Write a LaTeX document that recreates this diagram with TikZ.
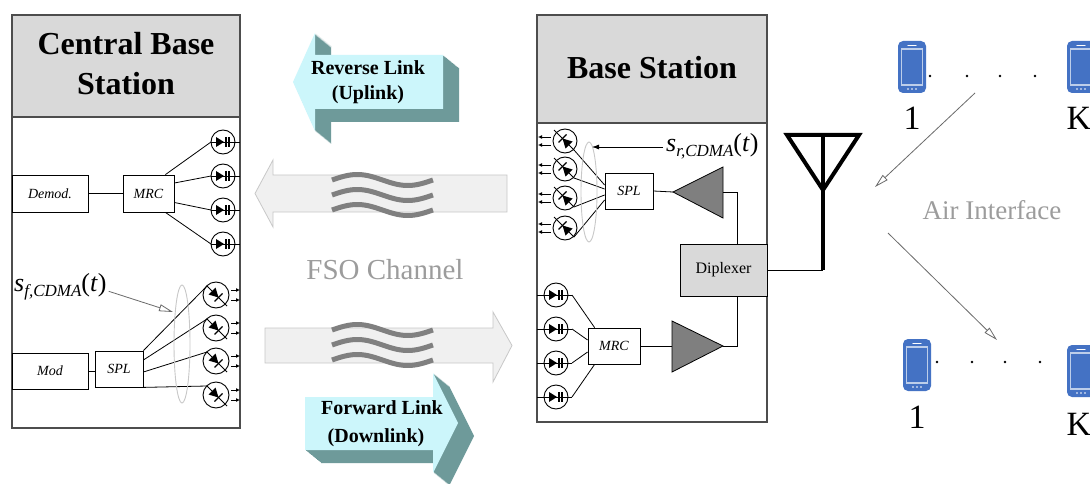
\documentclass[tikz,border=0pt]{standalone}
\usepackage{fontspec}
\setmainfont{Liberation Serif}
\usetikzlibrary{arrows.meta,calc}

\definecolor{hdrgray}{HTML}{D9D9D9}
\definecolor{framegray}{HTML}{4D4D4D}
\definecolor{fsofill}{HTML}{F0F0F0}
\definecolor{fsoedge}{HTML}{C8C8C8}
\definecolor{wavegray}{HTML}{808080}
\definecolor{cyanface}{HTML}{CCF6FB}
\definecolor{cyanside}{HTML}{6E9A9A}
\definecolor{phoneblue}{HTML}{4472C4}
\definecolor{softtext}{HTML}{9C9C9C}
\definecolor{ampgray}{HTML}{7F7F7F}
\definecolor{ellgray}{HTML}{C8C8C8}
\definecolor{airline}{HTML}{6A6A6A}

\tikzset{
  panel/.style={draw=framegray, line width=1.5pt},
  blk/.style={draw=black, line width=0.8pt, fill=white, inner sep=0pt,
    font=\fontsize{14}{14}\selectfont\itshape},
  wire/.style={draw=black, line width=0.8pt},
  title/.style={font=\fontsize{32}{36}\selectfont\bfseries, inner sep=0pt},
  linkfont/.style={font=\fontsize{20}{24}\selectfont\bfseries, inner sep=0pt},
  amplifier/.style={draw=black, line width=0.8pt, fill=ampgray},
  ellipsemark/.style={draw=ellgray, line width=0.9pt},
  wavestroke/.style={draw=wavegray, line width=5pt},
  openarrow/.style={draw=airline, line width=0.8pt,
    -{Triangle[length=14pt,width=7pt,fill=white]}},
  % photodiode: circle with diode and two bars
  pd/.pic={
    \draw[line width=0.9pt] (0,0) circle[radius=12pt];
    \fill (-7,-5) -- (1,0) -- (-7,5) -- cycle;
    \draw[line width=1.2pt] (3,-5) -- (3,5) (6,-5) -- (6,5);
  },
  % laser diode emitting to the right
  ldL/.pic={
    \draw[line width=0.9pt] (0,0) circle[radius=13pt];
    \draw[line width=0.9pt] (-9,-9) -- (11,11);
    \fill (2.5,2.5) -- (-0.5,-7.5) -- (-7.5,-0.5) -- cycle;
    \draw[line width=1.2pt] (6.5,-1.5) -- (-1.5,6.5);
    \draw[line width=0.8pt, -{Latex[length=4pt,width=4pt]}] (15,-5) -- (24,-5);
    \draw[line width=0.8pt, -{Latex[length=4pt,width=4pt]}] (15,5) -- (24,5);
  },
  % laser diode emitting to the left
  ldR/.pic={
    \draw[line width=0.9pt] (0,0) circle[radius=12pt];
    \draw[line width=0.9pt] (9,9) -- (-11,-11);
    \fill (-2.5,-2.5) -- (0.5,7.5) -- (7.5,0.5) -- cycle;
    \draw[line width=1.2pt] (-6.5,1.5) -- (1.5,-6.5);
    \draw[line width=0.8pt, -{Latex[length=4pt,width=4pt]}] (-14,-4) -- (-27,-4);
    \draw[line width=0.8pt, -{Latex[length=4pt,width=4pt]}] (-14,4) -- (-27,4);
  },
  % handset icon, anchored at its top-left corner
  handset/.pic={
    \fill[phoneblue, rounded corners=5pt] (0,0) rectangle (28,52);
    \draw[white!65!phoneblue, line width=1.1pt] (3.5,8) rectangle (24.5,44);
    \draw[white, line width=1.2pt, line cap=round] (10,4.3) -- (18,4.3);
    \foreach \u in {10,14,18} \fill[white] (\u,48) circle[radius=0.9pt];
  }
}

\begin{document}
\begin{tikzpicture}[x=1pt,y=-1pt]
\useasboundingbox (0,0) rectangle (1090,484);
\fill[white] (0,0) rectangle (1090,484);

% ---------------- central base station ----------------
\draw[panel] (12,15) rectangle (240,428);
\filldraw[panel, fill=hdrgray] (12,15) rectangle (240,117);
\node[title, anchor=base] (cbsA) at (126,55) {Central Base};
\node[title, anchor=base] (cbsB) at (126,95) {Station};

\node[blk, minimum width=76, minimum height=37] (demod) at (50,193.5) {Demod.};
\node[blk, minimum width=51, minimum height=37] (mrcL) at (148.5,193.5) {MRC};
\draw[wire] (demod) -- (mrcL);

\foreach \i/\y in {1/142,2/176,3/210,4/244}{
  \coordinate (rxL\i) at (223,\y);
  \draw[wire] ($(rxL\i)+(-12,0)$) -- ($(rxL\i)+(17,0)$);
  \pic at (rxL\i) {pd};
}
\draw[wire] ($(mrcL.north east)+(-9,0)$) -- ($(rxL1)+(-12,0)$);
\draw[wire] ($(mrcL.east)+(0,-10.5)$) -- ($(rxL2)+(-12,0)$);
\draw[wire] ($(mrcL.east)+(0,9)$) -- ($(rxL3)+(-12,0)$);
\draw[wire] ($(mrcL.south east)+(-9,0)$) -- ($(rxL4)+(-12,0)$);

\node[blk, minimum width=76, minimum height=36] (mod) at (50,371) {Mod};
\node[blk, minimum width=48, minimum height=36] (splL) at (119,369) {SPL};
\draw[wire] (mod.east) -- (mod.east -| splL.west);

\foreach \i/\y in {1/295,2/328,3/361,4/395}{
  \coordinate (txL\i) at (216,\y);
  \pic at (txL\i) {ldL};
}
\draw[wire] (splL.north east) -- ($(txL1)+(-9,-9)$);
\draw[wire] ($(splL.east)+(0,-9)$) -- ($(txL2)+(-9,-9)$);
\draw[wire] ($(splL.east)+(0,3)$) -- ($(txL3)+(-9,-9)$);
\draw[wire] (splL.south east) -- ($(txL4)+(-9,-9)$);
\draw[ellipsemark] (182,344) ellipse[x radius=8pt, y radius=59pt];

\node[anchor=base west, inner sep=0pt] (sfl) at (14,291)
  {\fontsize{26}{26}\selectfont\itshape s\raisebox{-5pt}{\fontsize{17}{17}\selectfont f,CDMA}\upshape(\textit{t})};
\coordinate (sfTip) at (173,312);
\draw[openarrow] ($(sfl.east)+(2,5)$) -- (sfTip);

% ---------------- FSO channel ----------------
\draw[fill=fsofill, draw=fsoedge, line width=0.8pt]
  (255,193.5) -- (273,160) -- (273,175) -- (507,175) -- (507,212)
  -- (273,212) -- (273,227) -- cycle;
\draw[fill=fsofill, draw=fsoedge, line width=0.8pt]
  (265,328) -- (493,328) -- (493,312) -- (512,345.5) -- (493,382)
  -- (493,363) -- (265,363) -- cycle;
\foreach \y in {180,195,210,330,345,360}
  \draw[wavestroke] plot[domain=0:1, samples=40] ({332+101*\x},{\y-5.5*sin(360*\x)});
\node[font=\fontsize{29}{29}\selectfont, text=softtext, inner sep=0pt] (fso) at (385,270) {FSO Channel};

% reverse link (3D block arrow pointing left)
\foreach \k in {1,...,16}
  \fill[cyanside, shift={(\k,{\k*13/16})}]
    (293,82) -- (315,33) -- (315,55) -- (443,55) -- (443,109) -- (315,109) -- (315,131) -- cycle;
\fill[cyanface]
  (293,82) -- (315,33) -- (315,55) -- (443,55) -- (443,109) -- (315,109) -- (315,131) -- cycle;
\node[linkfont, anchor=base] (revA) at (368,75) {Reverse Link};
\node[linkfont, anchor=base] (revB) at (368,100) {(Uplink)};

% forward link (3D block arrow pointing right)
\foreach \k in {1,...,16}
  \fill[cyanside, shift={(\k,{\k*13/16})}]
    (305,397) -- (433,397) -- (433,373) -- (458,423) -- (433,473) -- (433,450) -- (305,450) -- cycle;
\fill[cyanface]
  (305,397) -- (433,397) -- (433,373) -- (458,423) -- (433,473) -- (433,450) -- (305,450) -- cycle;
\node[linkfont, anchor=base] (fwdA) at (382,414) {Forward Link};
\node[linkfont, anchor=base] (fwdB) at (376,442) {(Downlink)};

% ---------------- base station ----------------
\draw[panel] (537,15) rectangle (767,422);
\filldraw[panel, fill=hdrgray] (537,15) rectangle (767,123);
\node[title, anchor=base] (bs) at (652,79) {Base Station};

\foreach \i/\y in {1/141,2/169,3/198,4/228}{
  \coordinate (txR\i) at (565,\y);
  \pic at (txR\i) {ldR};
}
\node[blk, minimum width=48, minimum height=36] (splR) at (629,191) {SPL};
\draw[wire] ($(txR1)+(9,9)$) -- ($(splR.west)+(0,-6)$);
\draw[wire] ($(txR2)+(9,9)$) -- ($(splR.west)+(0,-2)$);
\draw[wire] ($(txR3)+(9,9)$) -- ($(splR.west)+(0,4)$);
\draw[wire] ($(txR4)+(9,9)$) -- ($(splR.west)+(0,9)$);
\draw[ellipsemark] (589,192) ellipse[x radius=8pt, y radius=50pt];

\node[anchor=base west, inner sep=0pt] (srl) at (666,152)
  {\fontsize{26}{26}\selectfont\itshape s\raisebox{-5pt}{\fontsize{17}{17}\selectfont r,CDMA}\upshape(\textit{t})};
\coordinate (srTip) at (592,147);
\draw[wire, -{Latex[length=7pt,width=5pt]}] (663,147) -- (srTip);

\coordinate (ampUin) at (673,192);
\coordinate (ampUout) at (723,192);
\filldraw[amplifier] (ampUin) -- (723,167) -- (723,218) -- cycle;
\draw[wire] (splR.east) -- (ampUin);

\node[draw=black, line width=0.8pt, fill=hdrgray, minimum width=87, minimum height=52,
  inner sep=0pt, font=\fontsize{16}{16}\selectfont] (dip) at (723.5,270) {Diplexer};
\draw[wire] (ampUout) -| ($(dip.north west)+(58,0)$);

\coordinate (ampDin) at (672,346);
\coordinate (ampDout) at (723,346);
\filldraw[amplifier] (672,321) -- (672,372) -- (ampDout) -- cycle;
\draw[wire] ($(dip.south west)+(58,0)$) |- (ampDout);

\node[blk, minimum width=52, minimum height=36] (mrcR) at (614,346) {MRC};
\draw[wire] (mrcR) -- (ampDin);

\foreach \i/\y in {1/295,2/329,3/363,4/397}{
  \coordinate (rxR\i) at (556,\y);
  \draw[wire] ($(rxR\i)+(-19,0)$) -- ($(rxR\i)+(16,0)$);
  \pic at (rxR\i) {pd};
}
\draw[wire] ($(rxR1)+(16,0)$) -- ($(mrcR.north west)+(7,0)$);
\draw[wire] ($(rxR2)+(16,0)$) -- ($(mrcR.west)+(0,-6)$);
\draw[wire] ($(rxR3)+(16,0)$) -- ($(mrcR.west)+(0,6)$);
\draw[wire] ($(rxR4)+(16,0)$) -- ($(mrcR.south west)+(7,0)$);

% antenna
\coordinate (antBase) at (823,270);
\coordinate (antTop) at (823,135);
\draw[wire] (dip.east) -- (antBase);
\draw[line width=4pt, line join=miter] (787,135) -- (859,135) -- (823,190) -- cycle;
\draw[line width=4pt] (antTop) -- (antBase);

% ---------------- users ----------------
\pic at (898,41) {handset};
\pic at (1067,41) {handset};
\pic at (903,339) {handset};
\pic at (1067,345) {handset};
\foreach \x in {930,967,1000,1035} \fill (\x,76) circle[radius=1.3pt];
\foreach \x in {937,972,1005,1040} \fill (\x,362) circle[radius=1.3pt];
\node[anchor=base, font=\fontsize{34}{34}\selectfont, inner sep=0pt] (uA1) at (912,130) {1};
\node[anchor=base, font=\fontsize{34}{34}\selectfont, inner sep=0pt] (uAK) at (1079,130) {K};
\node[anchor=base, font=\fontsize{34}{34}\selectfont, inner sep=0pt] (uB1) at (917,428) {1};
\node[anchor=base, font=\fontsize{34}{34}\selectfont, inner sep=0pt] (uBK) at (1079,435) {K};

\coordinate (upFrom) at (975,93);
\coordinate (upTo) at (875,187);
\coordinate (dnFrom) at (888,233);
\coordinate (dnTo) at (997,340);
\draw[openarrow] (upFrom) -- (upTo);
\draw[openarrow] (dnFrom) -- (dnTo);
\node[font=\fontsize{27}{27}\selectfont, text=softtext, inner sep=0pt] (air) at (992,210) {Air Interface};

\end{tikzpicture}
\end{document}
